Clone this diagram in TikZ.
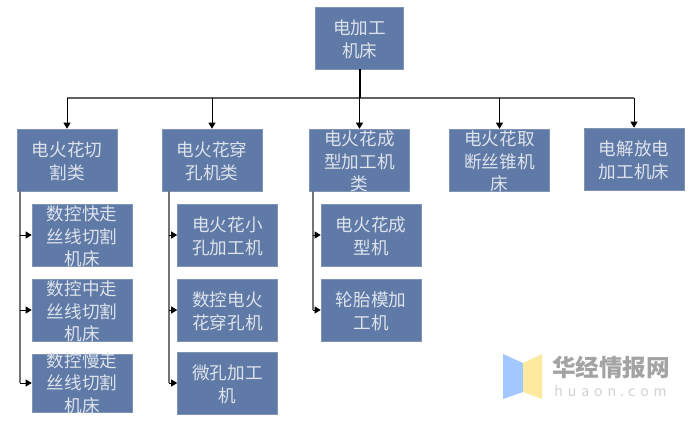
\documentclass[tikz,border=0pt]{standalone}
\usepackage{fontspec}
\newfontfamily\cjk{Noto Sans CJK SC}
\usetikzlibrary{arrows.meta,calc}
\definecolor{boxfill}{HTML}{5F7AA6}
\definecolor{boxedge}{HTML}{7F93B5}
\definecolor{boxtext}{HTML}{DDE3EC}
\definecolor{logoblue}{HTML}{A3C8FF}
\definecolor{logoyellow}{HTML}{FDEA9E}
\tikzset{
  box/.style={draw=boxedge,line width=0.6pt,fill=boxfill,text=boxtext,inner sep=0pt,align=center,
    minimum width=100pt,minimum height=62pt,font=\cjk\fontsize{17.6}{22.4}\selectfont},
  twolines/.style={box,text height=38pt,text depth=0pt},
  threelines/.style={box,text height=61pt,text depth=0pt},
  busline/.style={draw=black!62,line width=1.5pt},
  drop/.style={draw=black,line width=0.9pt,-{Triangle[length=6pt,width=7pt]}},
  branch/.style={draw=black!55,line width=1.8pt},
  tick/.style={draw=black,line width=0.9pt,-{Triangle[length=6pt,width=7pt]}},
}
\begin{document}
\begin{tikzpicture}[x=1pt,y=-1pt]
\useasboundingbox (0,0) rectangle (698,423);
\fill[white] (0,0) rectangle (698,423);
% boxes
\node[twolines,minimum width=88pt] (root) at (359.7,38) {电加工\\机床};
\node[twolines] (a) at (67,160) {电火花切\\割类};
\node[twolines] (b) at (212,160) {电火花穿\\孔机类};
\node[threelines] (c) at (359.5,160) {电火花成\\型加工机\\类};
\node[threelines] (d) at (499.5,160) {电火花取\\断丝锥机\\床};
\node[twolines] (e) at (634,159) {电解放电\\加工机床};
\node[threelines] (a1) at (82,235) {数控快走\\丝线切割\\机床};
\node[threelines] (a2) at (82,310) {数控中走\\丝线切割\\机床};
\node[box,minimum height=58pt,text height=58pt,text depth=-3pt] (a3) at (82,383) {数控慢走\\丝线切割\\机床};
\node[twolines] (b1) at (227.5,235) {电火花小\\孔加工机};
\node[twolines] (b2) at (227.5,310) {数控电火\\花穿孔机};
\node[twolines] (b3) at (227.5,383) {微孔加工\\机};
\node[twolines] (c1) at (371,235) {电火花成\\型机};
\node[twolines] (c2) at (371,310) {轮胎模加\\工机};
% bus
\coordinate (bus) at (359.7,98);
\draw[busline] (a.north |- bus) -- (e.north |- bus);
\draw[draw=black,line width=1.6pt] (root.south) -- (bus);
\foreach \n in {a,b,c,d,e} \draw[drop] (\n.north |- bus) -- (\n.north);
% trunks
\coordinate (ta) at ([xshift=3.5pt]a.south west);
\coordinate (tb) at ([xshift=7pt]b.south west);
\coordinate (tc) at ([xshift=3.5pt]c.south west);
\draw[branch] (ta) -- (ta |- a3.west);
\draw[branch] (tb) -- (tb |- b3.west);
\draw[branch] (tc) -- (tc |- c2.west);
\foreach \n in {a1,a2,a3} \draw[tick] (ta |- \n.west) -- (\n.west);
\foreach \n in {b1,b2,b3} \draw[tick] (tb |- \n.west) -- (\n.west);
\foreach \n in {c1,c2} \draw[tick] (tc |- \n.west) -- (\n.west);
% watermark
\fill[logoblue] (503,354) -- (523,363) -- (523,392) -- (503,399) -- cycle;
\fill[logoyellow] (523,363) -- (542,354) -- (542,399) -- (523,392) -- cycle;
\node[text=black!36,font=\cjk\bfseries\fontsize{23.6}{24}\selectfont,inner sep=0pt] (wm1) at (611,368) {华经情报网};
\node[text=black!18,font=\cjk\fontsize{14}{14}\selectfont,inner sep=0pt] (wm2) at (610.5,391) {h\hspace{5pt}u\hspace{5pt}a\hspace{5pt}o\hspace{5pt}n\hspace{4pt}.\hspace{4pt}c\hspace{5pt}o\hspace{5pt}m};
\end{tikzpicture}
\end{document}
